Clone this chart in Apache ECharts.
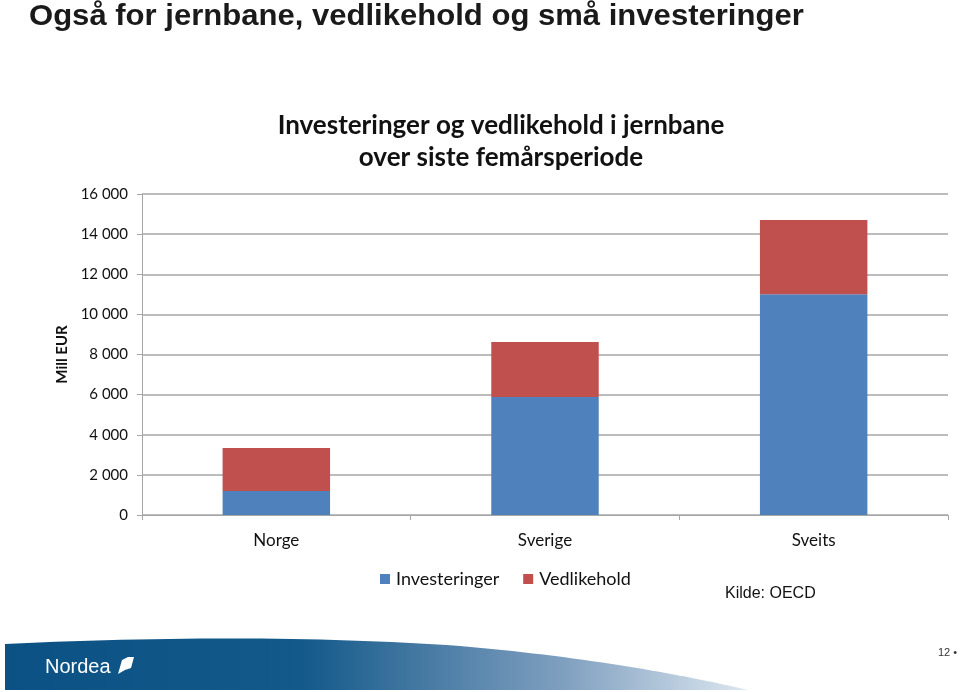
<!DOCTYPE html>
<html><head><meta charset="utf-8">
<script src="https://cdn.jsdelivr.net/npm/echarts@6/dist/echarts.min.js"></script>
<style>html,body{margin:0;padding:0;background:#fff}#c{width:960px;height:692px}</style>
</head><body><div id="c"></div>
<script>
const categories = ['Norge', 'Sverige', 'Sveits'];
const investeringer = [1200, 5880, 11000];
const vedlikehold = [2140, 2740, 3700];
const yTicks = [0, 2000, 4000, 6000, 8000, 10000, 12000, 14000, 16000];

const chart = echarts.init(document.getElementById('c'));
const calibri = 'Lato, "Open Sans", sans-serif';

// decorative banner outline (quadratic curves sampled)
function bannerPoints() {
  const pts = [];
  const q = (p0, p1, p2, t) => [(1-t)*(1-t)*p0[0] + 2*(1-t)*t*p1[0] + t*t*p2[0],
                                (1-t)*(1-t)*p0[1] + 2*(1-t)*t*p1[1] + t*t*p2[1]];
  for (let i = 0; i <= 30; i++) pts.push(q([5,644],[260,632],[460,646], i/30));
  for (let i = 1; i <= 30; i++) pts.push(q([460,646],[620,660],[748,690], i/30));
  pts.push([5,690]);
  return pts;
}

chart.setOption({
  backgroundColor: '#ffffff',
  animation: false,
  grid: {left: 142, right: 12, top: 194, bottom: 177},
  legend: {
    data: ['Investeringer', 'Vedlikehold'],
    left: 375, top: 565,
    icon: 'rect', itemWidth: 10, itemHeight: 10, itemGap: 24,
    textStyle: {fontFamily: calibri, fontSize: 18, color: '#111', padding: [0,0,0,1]}
  },
  xAxis: {
    type: 'category', data: categories,
    axisLine: {lineStyle: {color: '#a6a6a6'}},
    axisTick: {show: true, length: 5, lineStyle: {color: '#a6a6a6'}},
    axisLabel: {fontFamily: calibri, fontSize: 17, color: '#111', margin: 17}
  },
  yAxis: {
    type: 'value', min: yTicks[0], max: yTicks[yTicks.length-1], interval: 2000,
    name: 'Mill EUR', nameLocation: 'middle', nameGap: 68, nameRotate: 90,
    nameTextStyle: {fontFamily: calibri, fontSize: 15, fontWeight: 'bold', color: '#111'},
    axisLine: {show: true, lineStyle: {color: '#a6a6a6'}},
    axisTick: {show: true, length: 5, lineStyle: {color: '#a6a6a6'}},
    splitLine: {lineStyle: {color: '#a6a6a6', width: 1.5}},
    axisLabel: {fontFamily: calibri, fontSize: 15, color: '#111', margin: 14,
      formatter: v => String(v).replace(/\B(?=(\d{3})+(?!\d))/g, ' ')}
  },
  series: [
    {name: 'Investeringer', type: 'bar', stack: 's', data: investeringer, barWidth: '40%',
     itemStyle: {color: '#4f81bd'}},
    {name: 'Vedlikehold', type: 'bar', stack: 's', data: vedlikehold, barWidth: '40%',
     itemStyle: {color: '#c0504d'}}
  ],
  graphic: [
    {type: 'polygon', shape: {points: bannerPoints()}, silent: true,
      style: {fill: {type: 'linear', x: 0, y: 0, x2: 1, y2: 0, colorStops: [
        {offset: 0, color: '#0b5183'}, {offset: 0.4, color: '#13598a'},
        {offset: 0.75, color: '#7f9fbf'}, {offset: 1, color: '#dde7f0'}]}}},
    {type: 'text', x: 29, y: 2, scaleX: 1.035, style: {text: 'Også for jernbane, vedlikehold og små investeringer',
      font: 'bold 30px "Liberation Sans", Arial, sans-serif', fill: '#1a1a1a'}},
    {type: 'text', x: 501, y: 110, style: {text: 'Investeringer og vedlikehold i jernbane\nover siste femårsperiode',
      font: 'bold 26px ' + calibri, fill: '#111', align: 'center', lineHeight: 32}},
    {type: 'text', x: 725, y: 586, style: {text: 'Kilde: OECD', font: '16px "Liberation Sans", Arial, sans-serif', fill: '#111'}},
    {type: 'text', x: 45, y: 657, style: {text: 'Nordea', font: '20px "Liberation Sans", Arial, sans-serif', fill: '#ffffff'}},
    {type: 'polygon', shape: {points: [[118,674],[122,660],[128,657],[134,657],[131,668],[125,670]]}, style: {fill: '#ffffff'}},
    {type: 'text', x: 938, y: 647, style: {text: '12 •', font: '11px "Liberation Sans", Arial, sans-serif', fill: '#333'}}
  ]
});
</script></body></html>
